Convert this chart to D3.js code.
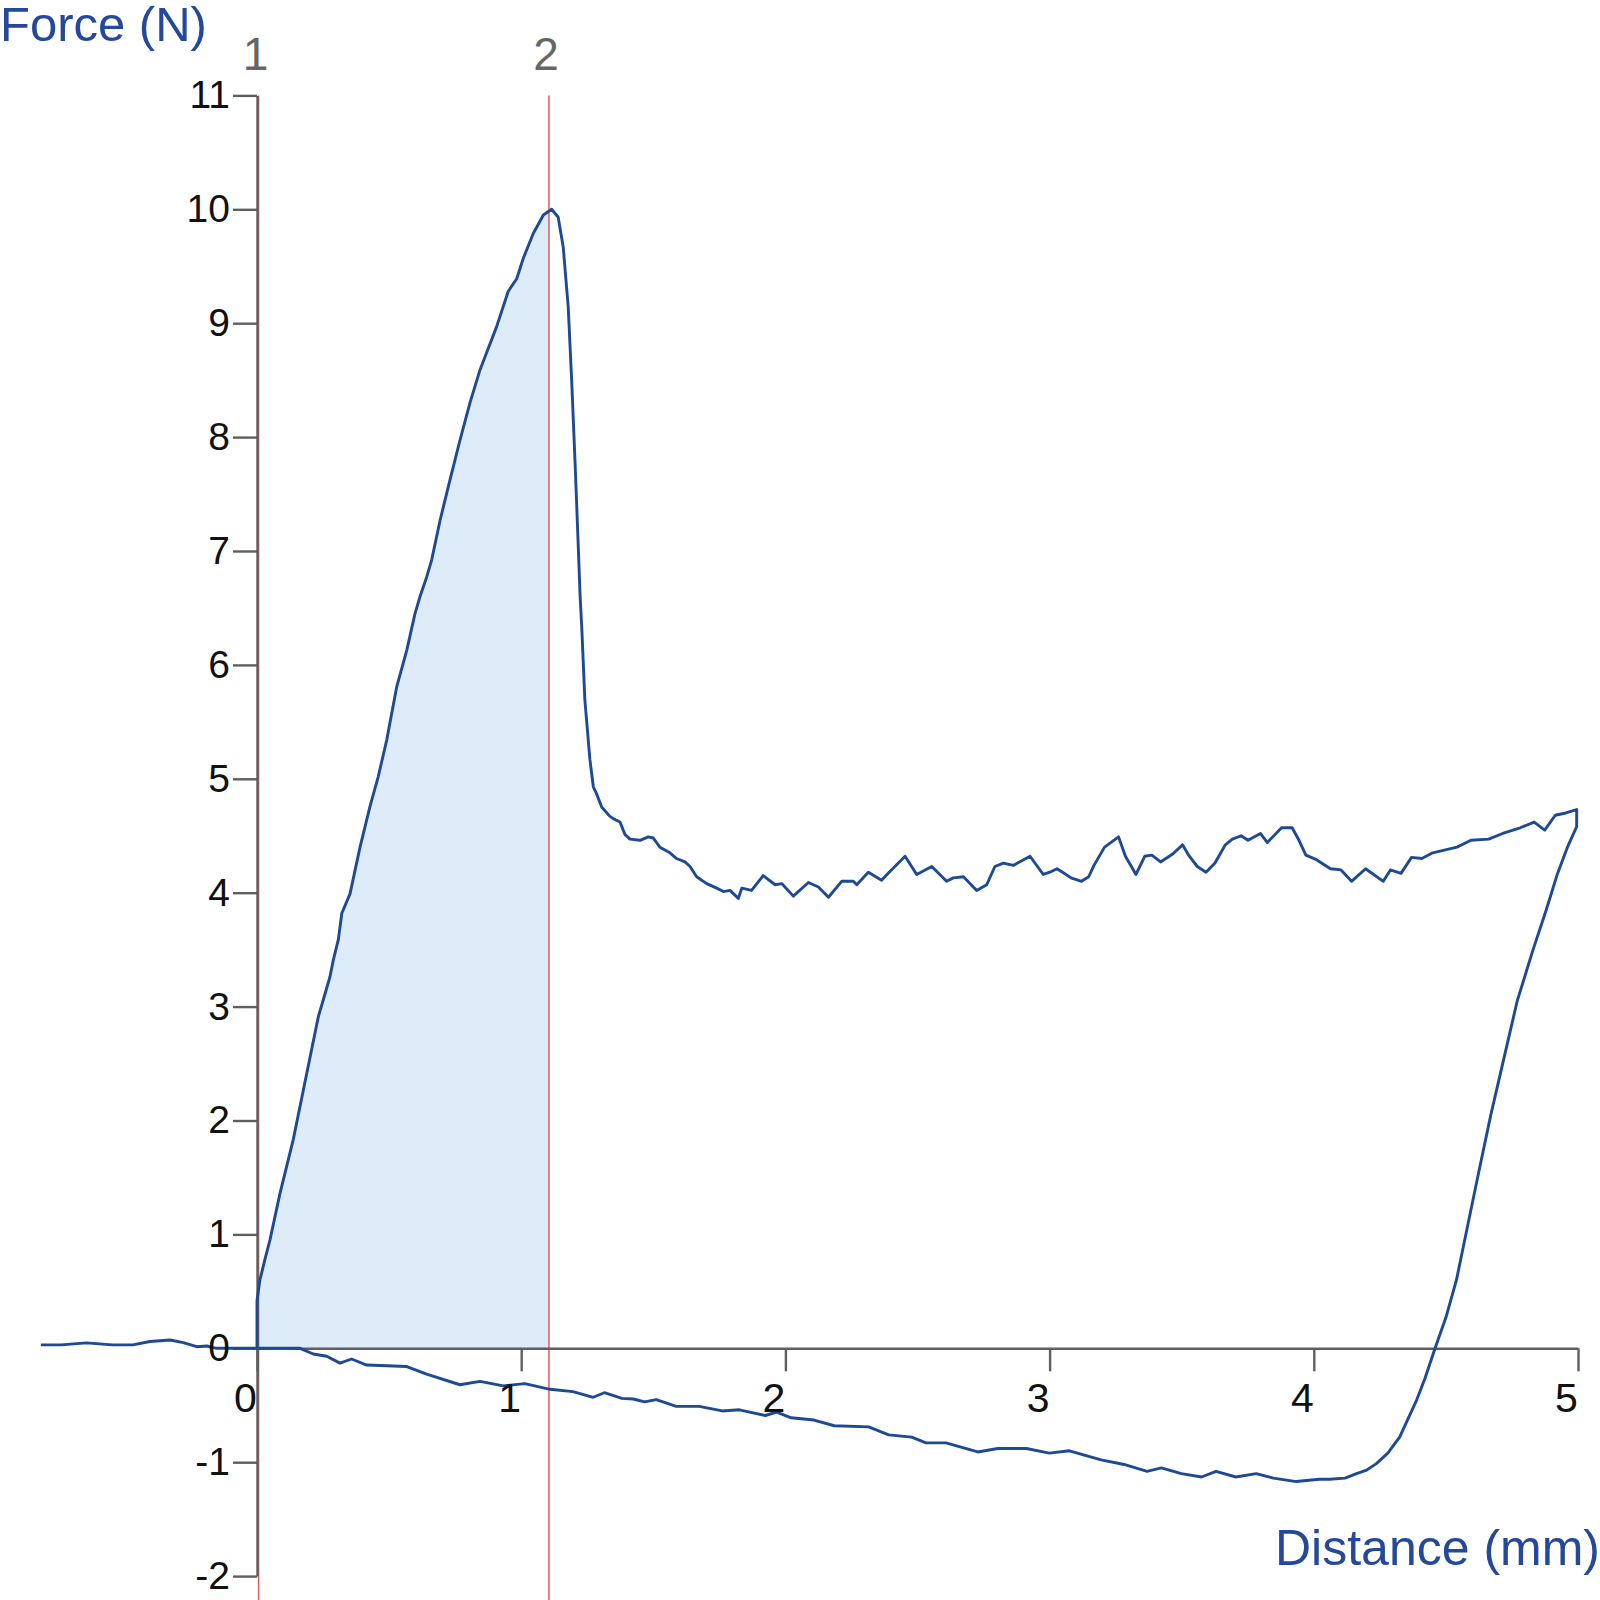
<!DOCTYPE html>
<html>
<head>
<meta charset="utf-8">
<script src="https://cdn.jsdelivr.net/npm/d3@7/dist/d3.min.js"></script>
<style>
  html, body { margin: 0; padding: 0; background: #ffffff; }
  svg { display: block; font-family: "Liberation Sans", Arial, sans-serif; }
</style>
</head>
<body>
<svg id="chart" width="1600" height="1600"></svg>
<script>
// ---------------- data ----------------
const xTicks = [0, 1, 2, 3, 4, 5];
const yTicks = [-2, -1, 0, 1, 2, 3, 4, 5, 6, 7, 8, 9, 10, 11];
const xTitle = "Distance (mm)";
const yTitle = "Force (N)";

const markerLabels = ["1", "2"];
const markerDistances = [0.006, 1.105];

// probe approach (before contact)
const approachDistance = [-0.818, -0.741, -0.645, -0.548, -0.470, -0.405, -0.329, -0.279, -0.228, -0.190, -0.153, -0.080, 0.000];
const approachForce    = [0.030, 0.030, 0.048, 0.030, 0.030, 0.060, 0.073, 0.050, 0.014, 0.020, 0.000, 0.000, 0.000];

// compression (loading, fracture, plateau)
const compressionDistance = [0.000, 0.011, 0.030, 0.049, 0.087, 0.137, 0.188, 0.232, 0.276, 0.289, 0.308, 0.321, 0.352, 0.390, 0.428, 0.459, 0.491, 0.529, 0.567, 0.598, 0.617, 0.642, 0.661, 0.693, 0.730, 0.768, 0.806, 0.844, 0.869, 0.907, 0.951, 0.983, 1.008, 1.046, 1.084, 1.115,
  1.140, 1.159, 1.178, 1.191, 1.204, 1.216, 1.223, 1.229, 1.241, 1.260, 1.273, 1.285, 1.305, 1.336, 1.349, 1.374, 1.393, 1.412, 1.450, 1.481, 1.500,
  1.525, 1.563, 1.588, 1.620, 1.639, 1.664, 1.702, 1.740, 1.765, 1.790, 1.822, 1.835, 1.872, 1.916, 1.961, 1.986, 2.030, 2.087, 2.125, 2.163, 2.213, 2.257, 2.270, 2.314, 2.364, 2.389, 2.453, 2.497, 2.554, 2.610, 2.636, 2.674, 2.724, 2.762, 2.793, 2.825, 2.863, 2.926, 2.976,
  3.001, 3.028, 3.055, 3.081, 3.121, 3.148, 3.168, 3.208, 3.261, 3.287, 3.327, 3.360, 3.387, 3.420, 3.466, 3.503, 3.526, 3.559, 3.592, 3.626, 3.665, 3.692, 3.725, 3.751, 3.798, 3.824, 3.878, 3.918, 3.944, 3.970,
  4.010, 4.063, 4.103, 4.143, 4.196, 4.263, 4.290, 4.330, 4.370, 4.409, 4.450, 4.542, 4.595, 4.662, 4.715, 4.781, 4.834, 4.874, 4.914, 4.954, 4.995];
const compressionForce = [0.42, 0.60, 0.78, 0.95, 1.36, 1.83, 2.41, 2.91, 3.26, 3.41, 3.59, 3.82, 3.99, 4.40, 4.76, 5.02, 5.34, 5.81, 6.13, 6.45, 6.60, 6.77, 6.92, 7.27, 7.62, 7.97, 8.30, 8.59, 8.74, 8.97, 9.28, 9.39, 9.57, 9.79, 9.95, 10.00,
  9.93, 9.67, 9.14, 8.50, 7.77, 7.04, 6.60, 6.34, 5.69, 5.17, 4.93, 4.87, 4.75, 4.67, 4.65, 4.62, 4.51, 4.47, 4.46, 4.49, 4.48,
  4.40, 4.35, 4.30, 4.27, 4.23, 4.14, 4.08, 4.04, 4.01, 4.02, 3.95, 4.04, 4.02, 4.15, 4.07, 4.08, 3.97, 4.09, 4.05, 3.96, 4.10, 4.10, 4.07, 4.18, 4.11, 4.17, 4.32, 4.16, 4.23, 4.10, 4.13, 4.14, 4.02, 4.07, 4.23, 4.26, 4.24, 4.32, 4.16,
  4.18, 4.21, 4.17, 4.13, 4.10, 4.14, 4.24, 4.40, 4.49, 4.32, 4.16, 4.32, 4.33, 4.27, 4.34, 4.42, 4.33, 4.23, 4.18, 4.26, 4.42, 4.47, 4.50, 4.46, 4.52, 4.44, 4.57, 4.57, 4.46, 4.33,
  4.29, 4.21, 4.20, 4.10, 4.21, 4.10, 4.20, 4.17, 4.31, 4.30, 4.35, 4.40, 4.46, 4.47, 4.52, 4.57, 4.62, 4.55, 4.68, 4.70, 4.73];

// retraction (probe withdrawal)
const retractionDistance = [4.995, 4.960, 4.920, 4.880, 4.830, 4.770, 4.720, 4.670, 4.620, 4.580, 4.540, 4.500, 4.459, 4.420, 4.390, 4.325, 4.280, 4.238, 4.200, 4.162, 4.118, 4.060, 4.021, 3.934, 3.847, 3.782, 3.705, 3.630, 3.575, 3.499, 3.423, 3.369, 3.282, 3.195, 3.075, 2.999, 2.912, 2.804, 2.728, 2.608, 2.532, 2.478, 2.391, 2.315, 2.185, 2.108, 2.022, 1.967, 1.924, 1.826, 1.761, 1.674, 1.587, 1.511, 1.467, 1.424, 1.381, 1.315, 1.272, 1.196, 1.109, 1.014, 0.932, 0.844, 0.768, 0.642, 0.567, 0.415, 0.358, 0.314, 0.264, 0.213, 0.163, 0.080, 0.000];
const retractionForce = [4.58, 4.40, 4.15, 3.85, 3.50, 3.05, 2.55, 2.05, 1.50, 1.05, 0.60, 0.27, 0.00, -0.27, -0.45, -0.78, -0.92, -1.01, -1.07, -1.10, -1.14, -1.15, -1.15, -1.17, -1.14, -1.10, -1.13, -1.08, -1.13, -1.10, -1.05, -1.08, -1.02, -0.98, -0.90, -0.92, -0.88, -0.88, -0.91, -0.83, -0.83, -0.78, -0.76, -0.69, -0.68, -0.63, -0.61, -0.56, -0.59, -0.54, -0.55, -0.51, -0.51, -0.45, -0.47, -0.445, -0.44, -0.39, -0.43, -0.38, -0.36, -0.31, -0.33, -0.29, -0.32, -0.226, -0.16, -0.147, -0.094, -0.13, -0.07, -0.05, 0.00, 0.00, 0.00];

// ---------------- drawing ----------------
const svg = d3.select("#chart");
const x = d3.scaleLinear().domain([0, 5]).range([257, 1578]);
const y = d3.scaleLinear().domain([-2, 11]).range([1576.1, 95.4]);

const zip = (xs, ys) => xs.map((d, i) => [d, ys[i]]);
const approach = zip(approachDistance, approachForce);
const compression = zip(compressionDistance, compressionForce);
const retraction = zip(retractionDistance, retractionForce);
const fullCurve = approach.concat(compression, retraction);

// shaded work area between marker 1 and marker 2
const xEnd = markerDistances[1];
const fillPts = [[0, 0]].concat(compression.filter(d => d[0] <= xEnd));
{
  const i = compression.findIndex(d => d[0] > xEnd);
  const a = compression[i - 1], b = compression[i];
  const t = (xEnd - a[0]) / (b[0] - a[0]);
  fillPts.push([xEnd, a[1] + t * (b[1] - a[1])]);
}
svg.append("path")
  .datum(fillPts)
  .attr("fill", "#deebf9")
  .attr("d", d3.area().x(d => x(d[0])).y0(y(0)).y1(d => y(d[1])));

// marker lines
svg.append("g").selectAll("line")
  .data(markerDistances)
  .join("line")
  .attr("x1", d => x(d)).attr("x2", d => x(d))
  .attr("y1", y(11)).attr("y2", 1600)
  .attr("stroke", "#e05a5f").attr("stroke-width", 1.5);

svg.append("g").selectAll("text")
  .data(markerLabels)
  .join("text")
  .attr("x", (d, i) => x(markerDistances[i]) - 3)
  .attr("y", 70)
  .attr("text-anchor", "middle")
  .attr("font-size", 46)
  .attr("fill", "#666666")
  .text(d => d);

// axes
const fmt = d => String(d);
function styleAxis(g) {
  g.select(".domain").attr("stroke", "#5f5f5f").attr("stroke-width", 2.4);
  g.selectAll(".tick line").attr("stroke", "#5f5f5f").attr("stroke-width", 2.4);
}
const yAxis = d3.axisLeft(y).tickValues(yTicks).tickSize(24).tickSizeOuter(0).tickPadding(3).tickFormat(fmt);
const xAxis = d3.axisBottom(x).tickValues(xTicks).tickSize(23).tickSizeOuter(0).tickPadding(12).tickFormat(fmt);

const gy = svg.append("g").attr("transform", `translate(${x(0)},0)`).call(yAxis).call(styleAxis);
gy.selectAll("text").remove();
const gx = svg.append("g").attr("transform", `translate(0,${y(0)})`).call(xAxis).call(styleAxis);
gx.selectAll("text").remove();

// curve
svg.append("path")
  .datum(fullCurve)
  .attr("fill", "none")
  .attr("stroke", "#1e4994")
  .attr("stroke-width", 2.9)
  .attr("stroke-linejoin", "round")
  .attr("d", d3.line().x(d => x(d[0])).y(d => y(d[1])));

// tick labels on top
const gyL = svg.append("g").attr("transform", `translate(${x(0)},0)`).call(yAxis);
gyL.select(".domain").remove();
gyL.selectAll(".tick line").remove();
gyL.selectAll("text").attr("font-size", 39).attr("fill", "#111").attr("font-family", "Liberation Sans, Arial, sans-serif");

const gxL = svg.append("g").attr("transform", `translate(0,${y(0)})`).call(xAxis);
gxL.select(".domain").remove();
gxL.selectAll(".tick line").remove();
gxL.selectAll("text").attr("font-size", 41).attr("fill", "#111").attr("dx", -12).attr("font-family", "Liberation Sans, Arial, sans-serif");

// axis titles
svg.append("text")
  .attr("x", 0).attr("y", 41)
  .attr("font-size", 49)
  .attr("fill", "#24489b")
  .text(yTitle);

svg.append("text")
  .attr("x", 1600).attr("y", 1565)
  .attr("text-anchor", "end")
  .attr("font-size", 50)
  .attr("fill", "#24489b")
  .text(xTitle);
</script>
</body>
</html>
